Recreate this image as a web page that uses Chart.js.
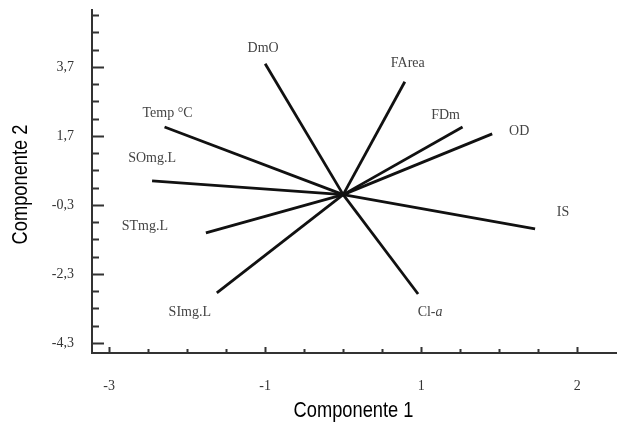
<!DOCTYPE html>
<html>
<head>
<meta charset="utf-8">
<script src="https://cdn.jsdelivr.net/npm/chart.js@4/dist/chart.umd.min.js"></script>
<style>
  html, body { margin: 0; padding: 0; background: #fff; }
  canvas { display: block; }
</style>
</head>
<body>
<canvas id="biplot" width="617" height="425"></canvas>
<script>
// Loadings of each variable on the two components (arrow tips; arrows start at the origin)
const variables = ['DmO', 'FArea', 'FDm', 'OD', 'IS', 'Cl-a', 'SImg.L', 'STmg.L', 'SOmg.L', 'Temp \u00b0C'];
const comp1 = [-1.00, 0.79, 1.53, 1.91, 2.46, 0.96, -1.62, -1.76, -2.45, -2.29];
const comp2 = [3.79, 3.27, 1.96, 1.76, -0.99, -2.88, -2.85, -1.11, 0.40, 1.96];

// Axis ticks as printed on the figure
const xTickValues = [-3, -1, 1, 3];
const xTickLabels = ['-3', '-1', '1', '2'];
const yTickValues = [3.7, 1.7, -0.3, -2.3, -4.3];
const yTickLabels = ['3,7', '1,7', '-0,3', '-2,3', '-4,3'];
const xTitle = 'Componente 1';
const yTitle = 'Componente 2';

// label placement relative to the arrow tip (px)
const LABEL_OFFSETS = [[-2, -16], [3, -18], [-17, -12], [27, -3], [28, -16],
  [12, 18], [-27, 19], [-61, -7], [0, -22], [3, -14]];

const SERIF = "'Liberation Serif', 'DejaVu Serif', serif";
const SANS = "'Liberation Sans', Arial, sans-serif";
const AXIS_COLOR = '#333';

const r1 = v => Math.round(v * 10) / 10;

function stepTicks(from, to) {
  const out = [];
  for (let v = from; v <= to + 1e-9; v += 0.5) out.push({ value: r1(v) });
  return out;
}

function labelFor(values, labels, v) {
  const i = values.findIndex(t => Math.abs(t - v) < 1e-6);
  return i < 0 ? '' : labels[i];
}

// tick marks drawn inward from the axis lines
const innerTicks = {
  id: 'innerTicks',
  afterDraw(chart) {
    const { ctx, chartArea, scales: { x, y } } = chart;
    ctx.save();
    ctx.strokeStyle = AXIS_COLOR;
    ctx.lineWidth = 2;
    ctx.beginPath();
    y.ticks.forEach(t => {
      const py = Math.round(y.getPixelForValue(t.value)) + 0.5;
      const len = labelFor(yTickValues, yTickLabels, t.value) ? 12 : 7;
      ctx.moveTo(chartArea.left, py);
      ctx.lineTo(chartArea.left + len, py);
    });
    x.ticks.forEach(t => {
      const px = Math.round(x.getPixelForValue(t.value)) + 0.5;
      const len = labelFor(xTickValues, xTickLabels, t.value) ? 6 : 4;
      ctx.moveTo(px, chartArea.bottom);
      ctx.lineTo(px, chartArea.bottom - len);
    });
    ctx.stroke();
    ctx.restore();
  }
};

// axis titles in a condensed sans (no narrow font installed, so squeeze it)
const axisTitles = {
  id: 'axisTitles',
  afterDraw(chart) {
    const { ctx, chartArea } = chart;
    const squeeze = 0.83;
    ctx.save();
    ctx.fillStyle = '#000';
    ctx.font = '22px ' + SANS;
    ctx.textAlign = 'center';
    ctx.textBaseline = 'middle';

    ctx.save();
    ctx.translate((chartArea.left + chartArea.right) / 2 - 1, 411);
    ctx.scale(squeeze, 1);
    ctx.fillText(xTitle, 0, 0);
    ctx.restore();

    ctx.save();
    ctx.translate(21, (chartArea.top + chartArea.bottom) / 2 + 3);
    ctx.rotate(-Math.PI / 2);
    ctx.scale(squeeze, 1);
    ctx.fillText(yTitle, 0, 0);
    ctx.restore();

    ctx.restore();
  }
};

// variable names next to the arrow tips
const tipLabels = {
  id: 'tipLabels',
  afterDatasetsDraw(chart) {
    const { ctx, scales: { x, y } } = chart;
    ctx.save();
    ctx.fillStyle = '#444';
    ctx.textBaseline = 'middle';
    const regular = '14px ' + SERIF;
    const italic = 'italic 14px ' + SERIF;
    variables.forEach((name, i) => {
      const cx = x.getPixelForValue(comp1[i]) + LABEL_OFFSETS[i][0];
      const cy = y.getPixelForValue(comp2[i]) + LABEL_OFFSETS[i][1];
      if (name === 'Cl-a') {
        ctx.font = regular;
        const w1 = ctx.measureText('Cl-').width;
        ctx.font = italic;
        const w2 = ctx.measureText('a').width;
        const sx = cx - (w1 + w2) / 2;
        ctx.textAlign = 'left';
        ctx.font = regular;
        ctx.fillText('Cl-', sx, cy);
        ctx.font = italic;
        ctx.fillText('a', sx + w1, cy);
      } else {
        ctx.font = regular;
        ctx.textAlign = 'center';
        ctx.fillText(name, cx, cy);
      }
    });
    ctx.restore();
  }
};

const datasets = variables.map((name, i) => ({
  label: name,
  data: [{ x: 0, y: 0 }, { x: comp1[i], y: comp2[i] }],
  showLine: true,
  borderColor: '#111',
  borderWidth: 2.8,
  pointRadius: 0,
  borderCapStyle: 'butt',
}));

new Chart(document.getElementById('biplot'), {
  type: 'scatter',
  data: { datasets },
  options: {
    responsive: false,
    animation: false,
    layout: { padding: { top: 10, right: 0, left: 0, bottom: 0 } },
    plugins: { legend: { display: false }, tooltip: { enabled: false } },
    scales: {
      x: {
        type: 'linear',
        min: -3.22,
        max: 3.51,
        afterBuildTicks: s => { s.ticks = stepTicks(-3, 3); },
        afterFit: s => {
          s.height = 72;
          s.paddingLeft = s.paddingRight = 0;
        },
        grid: { display: false, drawTicks: false },
        border: { display: true, color: AXIS_COLOR, width: 2 },
        ticks: {
          autoSkip: false,
          maxRotation: 0,
          padding: 25,
          color: '#333',
          font: { family: SERIF, size: 14 },
          callback: v => labelFor(xTickValues, xTickLabels, v),
        },
      },
      y: {
        type: 'linear',
        min: -4.59,
        max: 5.35,
        afterBuildTicks: s => { s.ticks = stepTicks(-4.3, 5.2); },
        afterFit: s => {
          s.width = 92;
          s.paddingTop = s.paddingBottom = 0;
        },
        grid: { display: false, drawTicks: false },
        border: { display: true, color: AXIS_COLOR, width: 2 },
        ticks: {
          autoSkip: false,
          padding: 18,
          color: '#333',
          font: { family: SERIF, size: 14 },
          callback: v => labelFor(yTickValues, yTickLabels, v),
        },
      },
    },
  },
  plugins: [innerTicks, tipLabels, axisTitles],
});
</script>
</body>
</html>
